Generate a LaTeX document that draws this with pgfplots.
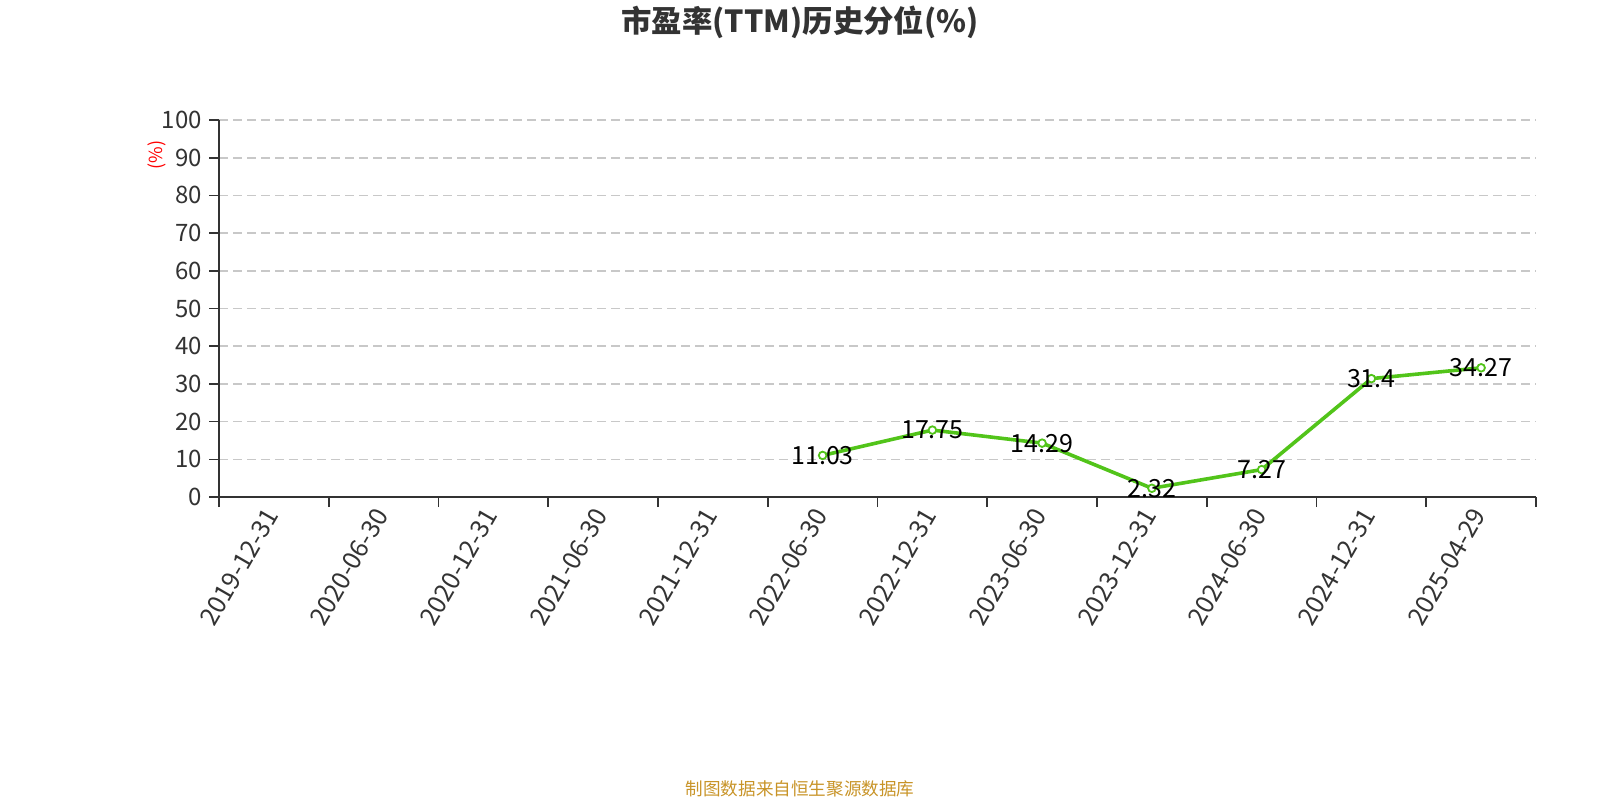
\documentclass[border=0pt]{standalone}
\usepackage{pgfplots}
\pgfplotsset{compat=1.18}
\usepackage{fontspec}
\setmainfont{Noto Sans CJK SC}
\definecolor{lgreen}{RGB}{82,196,26}
\definecolor{txtgray}{RGB}{51,51,51}
\definecolor{gridgray}{RGB}{200,200,200}
\definecolor{footgold}{RGB}{200,148,40}
\begin{document}
\begin{tikzpicture}
\path[use as bounding box] (-109.5pt,-151.5pt) rectangle (690.5pt,248.5pt);
\begin{axis}[
  at={(0,0)}, anchor=south west,
  scale only axis, width=658.5pt, height=188.5pt,
  xmin=-0.5, xmax=11.5, ymin=0, ymax=100,
  axis x line*=bottom, axis y line*=left,
  axis line style={txtgray, line width=0.8pt},
  xtick={0,...,11},
  xticklabels={2019-12-31,2020-06-30,2020-12-31,2021-06-30,2021-12-31,2022-06-30,2022-12-31,2023-06-30,2023-12-31,2024-06-30,2024-12-31,2025-04-29},
  major x tick style={draw=none},
  minor xtick={-0.5,0.5,...,11.5},
  minor x tick style={txtgray, line width=0.8pt},
  minor tick length=5pt,
  ytick={0,10,...,100},
  major y tick style={txtgray, line width=0.8pt},
  major tick length=5pt,
  tick align=outside,
  ymajorgrids,
  grid style={gridgray, dash pattern=on 4.5pt off 2.5pt, line width=0.8pt},
  x tick label style={rotate=60, anchor=east, font=\fontsize{12.6}{12.6}\selectfont, text=txtgray, inner sep=2pt},
  y tick label style={font=\fontsize{12}{12}\selectfont, text=txtgray},
  /pgf/number format/assume math mode=true,
  clip=false,
]
\addplot[lgreen, line width=1.8pt, mark=*, mark size=1.9pt,
  mark options={fill=white, draw=lgreen, line width=0.9pt},
  nodes near coords, point meta=explicit symbolic,
  every node near coord/.append style={anchor=center, font=\fontsize{12.5}{12.5}\selectfont, text=black}]
  table[meta=lab] {
  x y lab
  5 11.03 11.03
  6 17.75 17.75
  7 14.29 14.29
  8 2.32 2.32
  9 7.27 7.27
  10 31.4 31.4
  11 34.27 34.27
  };
\end{axis}
\node[font=\fontsize{15.2}{15.2}\selectfont\bfseries, text=txtgray] at (290.5pt,237.5pt) {市盈率(TTM)历史分位(\%)};
\node[font=\fontsize{9}{9}\selectfont, text=red, rotate=90] at (-31pt,171pt) {(\%)};
\node[font=\fontsize{8.8}{8.8}\selectfont, text=footgold] at (290.5pt,-146pt) {制图数据来自恒生聚源数据库};
\end{tikzpicture}
\end{document}
